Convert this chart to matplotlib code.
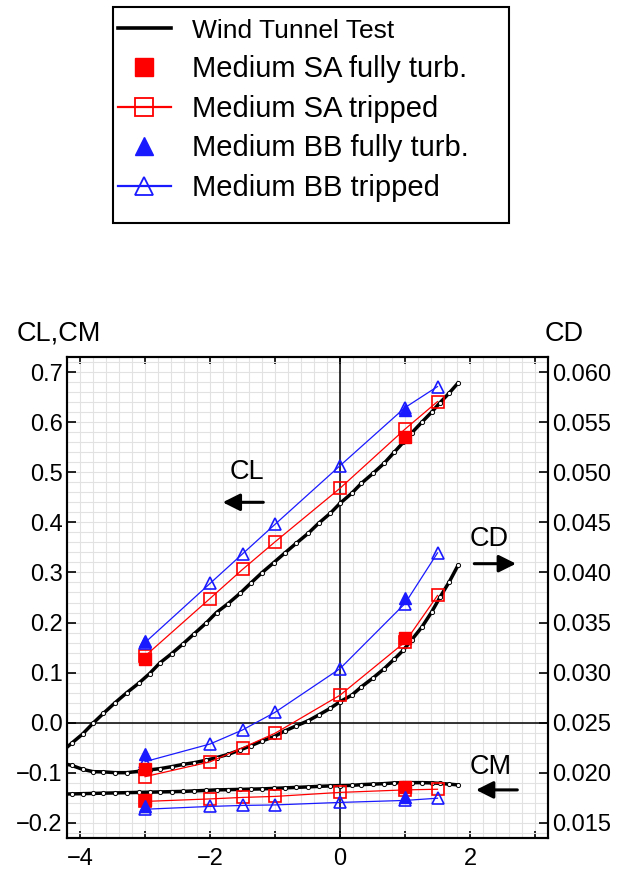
import numpy as np
import matplotlib
matplotlib.use("Agg")
import matplotlib.pyplot as plt
from matplotlib.lines import Line2D
from matplotlib.patches import Rectangle
from matplotlib.ticker import MultipleLocator
from matplotlib.font_manager import FontProperties

plt.rcParams['font.family'] = ['Liberation Sans', 'DejaVu Sans']

# ---------------- data ----------------
# Wind tunnel test (angle of attack, deg)
alpha_wt = [-4.30, -4.13, -3.96, -3.80, -3.64, -3.46, -3.28, -3.10, -2.93, -2.77,
            -2.59, -2.41, -2.24, -2.06, -1.90, -1.72, -1.54, -1.37, -1.20, -1.02,
            -0.85, -0.67, -0.49, -0.33, -0.15, 0.00, 0.18, 0.33, 0.51, 0.68,
            0.835, 0.975, 1.10, 1.26, 1.41, 1.54, 1.68, 1.815]
cl_wt = [-0.060, -0.041, -0.0225, -0.001, 0.0187, 0.040, 0.060, 0.0785, 0.098, 0.1195,
         0.138, 0.158, 0.178, 0.199, 0.220, 0.238, 0.258, 0.279, 0.2996, 0.3195,
         0.3387, 0.3586, 0.378, 0.398, 0.418, 0.438, 0.458, 0.478, 0.498, 0.518,
         0.540, 0.560, 0.578, 0.600, 0.620, 0.639, 0.658, 0.678]
cd_wt = [0.02100, 0.02075, 0.02035, 0.02012, 0.02010, 0.02002, 0.02002, 0.02015, 0.02030, 0.02042,
         0.02062, 0.02085, 0.02102, 0.02126, 0.02152, 0.02185, 0.02228, 0.02271, 0.02318, 0.02360,
         0.02418, 0.02470, 0.02520, 0.02577, 0.02644, 0.02710, 0.02775, 0.02859, 0.02948, 0.03040,
         0.03135, 0.03225, 0.03325, 0.03455, 0.03605, 0.03755, 0.03905, 0.04070]
cm_wt = [-0.1425, -0.142, -0.1415, -0.141, -0.1405, -0.140, -0.1395, -0.139, -0.1385, -0.138,
         -0.1375, -0.137, -0.136, -0.135, -0.134, -0.1335, -0.133, -0.1325, -0.132, -0.131,
         -0.130, -0.129, -0.128, -0.127, -0.126, -0.1255, -0.125, -0.1235, -0.1225, -0.1215,
         -0.120, -0.1195, -0.1195, -0.1195, -0.120, -0.121, -0.1225, -0.124]

# CFD, tripped
alpha_tr = [-3, -2, -1.5, -1, 0, 1, 1.5]
sa_tr_cl = [0.133, 0.248, 0.306, 0.361, 0.468, 0.586, 0.641]
sa_tr_cd = [0.01962, 0.0211, 0.0225, 0.02395, 0.02775, 0.03305, 0.0377]
sa_tr_cm = [-0.157, -0.152, -0.149, -0.147, -0.139, -0.134, -0.1327]
bb_tr_cl = [0.160, 0.278, 0.337, 0.396, 0.513, 0.629, 0.671]
bb_tr_cd = [0.02112, 0.02288, 0.02428, 0.02604, 0.0304, 0.0369, 0.04195]
bb_tr_cm = [-0.1726, -0.167, -0.165, -0.164, -0.159, -0.155, -0.1506]

# CFD, fully turbulent
alpha_ft = [-3, 1]
sa_ft_cl = [0.127, 0.571]
sa_ft_cd = [0.02035, 0.0335]
sa_ft_cm = [-0.154, -0.129]
bb_ft_cl = [0.1635, 0.624]
bb_ft_cd = [0.02188, 0.0375]
bb_ft_cm = [-0.167, -0.1487]

xticks = [-4, -3, -2, -1, 0, 1, 2, 3]
xtick_labels = ['\u22124', '', '\u22122', '', '0', '', '2', '']
yticks = [-0.2, -0.1, 0.0, 0.1, 0.2, 0.3, 0.4, 0.5, 0.6, 0.7]
ytick_labels = ['\u22120.2', '\u22120.1', '0.0', '0.1', '0.2', '0.3', '0.4', '0.5', '0.6', '0.7']
cdticks = [0.015, 0.020, 0.025, 0.030, 0.035, 0.040, 0.045, 0.050, 0.055, 0.060]
cdtick_labels = ['0.015', '0.020', '0.025', '0.030', '0.035', '0.040', '0.045', '0.050', '0.055', '0.060']

labels = ['Wind Tunnel Test', 'Medium SA fully turb.', 'Medium SA tripped',
          'Medium BB fully turb.', 'Medium BB tripped']

RED = '#ff0000'
BLUE = '#1a1aff'

# ---------------- figure ----------------
W, H = 625, 871
fig = plt.figure(figsize=(W / 100, H / 100), dpi=100)
ax = fig.add_axes([67 / W, 1 - 838 / H, (548 - 67) / W, (838 - 357) / H])
ax.set_xlim(-4.2, 3.2)
ax.set_ylim(-0.23, 0.73)
ax2 = ax.twinx()
ax2.set_ylim(0.0135, 0.0615)

# grid
ax.xaxis.set_minor_locator(MultipleLocator(0.2))
ax.yaxis.set_minor_locator(MultipleLocator(0.02))
ax.grid(which='both', color='#e2e2e2', lw=0.8, zorder=0)
ax.set_axisbelow(True)
ax.axhline(0, color='black', lw=1.1, zorder=1)
ax.axvline(0, color='black', lw=1.1, zorder=1)

# ticks
ax.set_xticks(xticks, xtick_labels)
ax.set_yticks(yticks, ytick_labels)
ax2.set_yticks(cdticks, cdtick_labels)
ax.tick_params(axis='x', which='major', direction='in', top=True, bottom=True,
               length=5, width=1.2, labelsize=17, pad=7)
ax.tick_params(axis='y', which='major', direction='in', left=True, right=False,
               length=6.5, width=1.2, labelsize=17, pad=3)
ax.tick_params(which='minor', length=0)
ax2.tick_params(axis='y', which='major', direction='in', length=6.5, width=1.2,
                labelsize=17, pad=3)
for a in (ax, ax2):
    for s in a.spines.values():
        s.set_linewidth(1.5)

# wind tunnel curves
wt_kw = dict(color='black', lw=2.5, marker='o', ms=3, mfc='white', mec='black',
             mew=0.7, zorder=3)
ax.plot(alpha_wt, cl_wt, **wt_kw)
ax.plot(alpha_wt, cm_wt, **wt_kw)
ax2.plot(alpha_wt, cd_wt, **wt_kw)

# CFD tripped
sa_kw = dict(color=RED, lw=0.9, marker='s', ms=8, mfc='none', mec=RED, mew=1.2, zorder=4)
bb_kw = dict(color=BLUE, lw=0.9, marker='^', ms=8, mfc='none', mec=BLUE, mew=1.2, zorder=4)
ax.plot(alpha_tr, sa_tr_cl, **sa_kw)
ax.plot(alpha_tr, sa_tr_cm, **sa_kw)
ax2.plot(alpha_tr, sa_tr_cd, **sa_kw)
ax.plot(alpha_tr, bb_tr_cl, **bb_kw)
ax.plot(alpha_tr, bb_tr_cm, **bb_kw)
ax2.plot(alpha_tr, bb_tr_cd, **bb_kw)

# CFD fully turbulent
saf_kw = dict(color=RED, ls='none', marker='s', ms=8, zorder=5)
bbf_kw = dict(color=BLUE, ls='none', marker='^', ms=8, zorder=5)
ax.plot(alpha_ft, sa_ft_cl, **saf_kw)
ax.plot(alpha_ft, sa_ft_cm, **saf_kw)
ax2.plot(alpha_ft, sa_ft_cd, **saf_kw)
ax.plot(alpha_ft, bb_ft_cl, **bbf_kw)
ax.plot(alpha_ft, bb_ft_cm, **bbf_kw)
ax2.plot(alpha_ft, bb_ft_cd, **bbf_kw)

# annotations with arrows
arrow_kw = dict(arrowstyle='-|>', lw=2.2, color='black', mutation_scale=26,
                shrinkA=0, shrinkB=0)
ax.text(-1.435, 0.501, 'CL', fontsize=19.5, ha='center', va='center')
ax.annotate('', xy=(-1.805, 0.440), xytext=(-1.18, 0.440), arrowprops=arrow_kw)
ax.text(2.29, 0.366, 'CD', fontsize=19.5, ha='center', va='center')
ax.annotate('', xy=(2.708, 0.3175), xytext=(2.066, 0.3175), arrowprops=arrow_kw)
ax.text(2.315, -0.0876, 'CM', fontsize=19.5, ha='center', va='center')
ax.annotate('', xy=(2.092, -0.134), xytext=(2.728, -0.134), arrowprops=arrow_kw)

# axis titles
fig.text(59 / W, 1 - 333.3 / H, 'CL,CM', fontsize=19.5, ha='center', va='center')
fig.text(564 / W, 1 - 334 / H, 'CD', fontsize=19.5, ha='center', va='center')

# legend
handles = [
    Line2D([], [], color='black', lw=2.6),
    Line2D([], [], color=RED, ls='none', marker='s', ms=8),
    Line2D([], [], color=RED, lw=1.6, marker='s', ms=8, mfc='none', mew=1.3),
    Line2D([], [], color=BLUE, ls='none', marker='^', ms=8),
    Line2D([], [], color=BLUE, lw=1.6, marker='^', ms=8, mfc='none', mew=1.3),
]
leg = fig.legend(handles, labels, loc='upper left',
                 bbox_to_anchor=(118 / W, 1 - 18 / H), frameon=False,
                 prop=FontProperties(family='Liberation Sans', size=21),
                 handlelength=1.8, handletextpad=0.72, labelspacing=0.40,
                 markerscale=1.6, borderpad=0, borderaxespad=0)
leg.get_texts()[0].set_fontsize(19)
fig.patches.append(Rectangle((112.7 / W, 1 - 222.7 / H), (509 - 112.7) / W,
                             (222.7 - 7.3) / H, transform=fig.transFigure,
                             fill=False, lw=1.5, ec='black'))

fig.savefig('out.png', dpi=100)
